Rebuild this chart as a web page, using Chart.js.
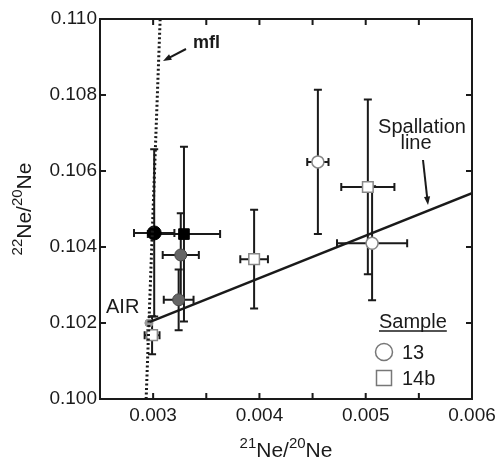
<!DOCTYPE html>
<html>
<head>
<meta charset="utf-8">
<script src="https://cdn.jsdelivr.net/npm/chart.js@4"></script>
<style>
  html, body { margin: 0; padding: 0; background: #fff; }
  #wrap { width: 497px; height: 463px; }
</style>
</head>
<body>
<div id="wrap"><canvas id="chart" width="497" height="463"></canvas></div>
<script>
// Ne isotope ratios: x = 21Ne/20Ne, y = 22Ne/20Ne, xe/ye = error half-widths
const sample13 = [
  { x: 0.00455, y: 0.10624, xe: 0.00010, ye: 0.0019 },
  { x: 0.00506, y: 0.10410, xe: 0.00033, ye: 0.0015 }
];
const sample14b = [
  { x: 0.00502, y: 0.10558, xe: 0.00025, ye: 0.0023 },
  { x: 0.00395, y: 0.10368, xe: 0.00013, ye: 0.0013 },
  { x: 0.00299, y: 0.10168, xe: 0.00007, ye: 0.0005 }
];
const blackCircle = [{ x: 0.00301, y: 0.10437, xe: 0.00019, ye: 0.0022 }];
const blackSquare = [{ x: 0.00329, y: 0.10434, xe: 0.00034, ye: 0.0023 }];
const grayCircles = [
  { x: 0.00326, y: 0.10379, xe: 0.00017, ye: 0.0011 },
  { x: 0.00324, y: 0.10261, xe: 0.00014, ye: 0.0008 }
];
const airPoint = [{ x: 0.00296, y: 0.10200 }];
const spallationLine = [{ x: 0.00297, y: 0.10203 }, { x: 0.00600, y: 0.10542 }];
const mflLine = [{ x: 0.002934, y: 0.100 }, { x: 0.003066, y: 0.110 }];

const xTicks = [0.003, 0.004, 0.005, 0.006];
const yTicks = [0.100, 0.102, 0.104, 0.106, 0.108, 0.110];

const FONT = "'Liberation Sans', Arial, sans-serif";
const INK = "#1a1a1a";

// error bars, drawn under the markers
const errorBars = {
  id: "errorBars",
  beforeDatasetsDraw(chart) {
    const { ctx, scales: { x, y } } = chart;
    ctx.save();
    ctx.strokeStyle = INK;
    ctx.lineWidth = 2;
    chart.data.datasets.forEach(ds => {
      if (!ds.errors) return;
      ds.data.forEach(p => {
        if (p.xe == null) return;
        const px = x.getPixelForValue(p.x), py = y.getPixelForValue(p.y);
        const x0 = x.getPixelForValue(p.x - p.xe), x1 = x.getPixelForValue(p.x + p.xe);
        const y0 = y.getPixelForValue(p.y - p.ye), y1 = y.getPixelForValue(p.y + p.ye);
        ctx.beginPath();
        ctx.moveTo(x0, py); ctx.lineTo(x1, py);
        ctx.moveTo(px, y0); ctx.lineTo(px, y1);
        ctx.moveTo(x0, py - 4); ctx.lineTo(x0, py + 4);
        ctx.moveTo(x1, py - 4); ctx.lineTo(x1, py + 4);
        ctx.moveTo(px - 4, y0); ctx.lineTo(px + 4, y0);
        ctx.moveTo(px - 4, y1); ctx.lineTo(px + 4, y1);
        ctx.stroke();
      });
    });
    ctx.restore();
  }
};

function arrow(ctx, x0, y0, x1, y1) {
  const a = Math.atan2(y1 - y0, x1 - x0), h = 9;
  ctx.beginPath();
  ctx.moveTo(x0, y0); ctx.lineTo(x1 - Math.cos(a) * 4, y1 - Math.sin(a) * 4);
  ctx.stroke();
  ctx.beginPath();
  ctx.moveTo(x1, y1);
  ctx.lineTo(x1 - h * Math.cos(a - 0.35), y1 - h * Math.sin(a - 0.35));
  ctx.lineTo(x1 - h * Math.cos(a + 0.35), y1 - h * Math.sin(a + 0.35));
  ctx.closePath();
  ctx.fill();
}

// frame, inward ticks, labels, legend and axis titles
const decorations = {
  id: "decorations",
  afterDraw(chart) {
    const { ctx, chartArea: a, scales: { x, y } } = chart;
    ctx.save();
    ctx.strokeStyle = INK;
    ctx.fillStyle = INK;
    ctx.lineWidth = 2;
    ctx.strokeRect(a.left, a.top, a.right - a.left, a.bottom - a.top);

    ctx.beginPath();
    x.ticks.forEach(t => {
      const px = x.getPixelForValue(t.value);
      if (px <= a.left + 1 || px >= a.right - 1) return;
      ctx.moveTo(px, a.bottom); ctx.lineTo(px, a.bottom - 6);
      ctx.moveTo(px, a.top); ctx.lineTo(px, a.top + 6);
    });
    y.ticks.forEach(t => {
      const py = y.getPixelForValue(t.value);
      if (py <= a.top + 1 || py >= a.bottom - 1) return;
      ctx.moveTo(a.left, py); ctx.lineTo(a.left + 6, py);
      ctx.moveTo(a.right, py); ctx.lineTo(a.right - 6, py);
    });
    ctx.stroke();

    // mfl label
    ctx.font = "bold 18px " + FONT;
    ctx.textBaseline = "middle";
    ctx.textAlign = "left";
    ctx.fillText("mfl", 193, 43);
    ctx.lineWidth = 2;
    arrow(ctx, 186, 49, 163, 61);

    // spallation line label
    ctx.font = "20px " + FONT;
    ctx.textAlign = "center";
    ctx.fillText("Spallation", 422, 127);
    ctx.fillText("line", 416, 143);
    arrow(ctx, 423, 160, 428, 205);

    ctx.font = "20px " + FONT;
    ctx.textAlign = "left";
    ctx.fillText("AIR", 106, 307);

    // legend
    ctx.fillText("Sample", 379, 322);
    const w = ctx.measureText("Sample").width;
    ctx.lineWidth = 1.5;
    ctx.beginPath(); ctx.moveTo(379, 331); ctx.lineTo(379 + w, 331); ctx.stroke();
    ctx.strokeStyle = "#777";
    ctx.beginPath(); ctx.arc(384, 352, 8.5, 0, Math.PI * 2); ctx.stroke();
    ctx.strokeRect(376.5, 370.5, 15, 15);
    ctx.fillText("13", 402, 353);
    ctx.fillText("14b", 402, 379);

    // axis titles with superscripts
    const drawTitle = (sup1, sup2, cx, base) => {
      const parts = [[sup1, 15, -9], ["Ne", 21, 0], ["/", 21, 0], [sup2, 15, -9], ["Ne", 21, 0]];
      let total = 0;
      parts.forEach(p => { ctx.font = p[1] + "px " + FONT; total += ctx.measureText(p[0]).width; });
      let px = cx - total / 2;
      ctx.textAlign = "left";
      ctx.textBaseline = "alphabetic";
      parts.forEach(p => {
        ctx.font = p[1] + "px " + FONT;
        ctx.fillText(p[0], px, base + p[2]);
        px += ctx.measureText(p[0]).width;
      });
    };
    drawTitle("21", "20", (a.left + a.right) / 2, 457);
    ctx.save();
    ctx.translate(31, (a.top + a.bottom) / 2);
    ctx.rotate(-Math.PI / 2);
    drawTitle("22", "20", 0, 0);
    ctx.restore();

    ctx.restore();
  }
};

new Chart(document.getElementById("chart"), {
  type: "scatter",
  data: {
    datasets: [
      { type: "line", data: mflLine, borderColor: INK, borderWidth: 3, borderDash: [2, 2.5],
        pointRadius: 0, fill: false },
      { type: "line", data: spallationLine, borderColor: INK, borderWidth: 2.5,
        pointRadius: 0, fill: false },
      { data: airPoint, pointStyle: "circle", pointRadius: 4, backgroundColor: "#999",
        borderColor: "#999", borderWidth: 1 },
      { data: grayCircles, errors: true, pointStyle: "circle", pointRadius: 6,
        backgroundColor: "#666", borderColor: "#444", borderWidth: 1 },
      { data: blackSquare, errors: true, pointStyle: "rect", pointRadius: 7.5,
        backgroundColor: "#000", borderColor: "#000", borderWidth: 1 },
      { data: blackCircle, errors: true, pointStyle: "circle", pointRadius: 7,
        backgroundColor: "#000", borderColor: "#000", borderWidth: 1 },
      { data: sample13, errors: true, pointStyle: "circle", pointRadius: 6,
        backgroundColor: "#fff", borderColor: "#888", borderWidth: 1.5 },
      { data: sample14b, errors: true, pointStyle: "rect", pointRadius: 7.5,
        backgroundColor: "#fff", borderColor: "#888", borderWidth: 1.5 }
    ]
  },
  options: {
    responsive: false,
    animation: false,
    events: [],
    layout: { padding: { top: 19, right: 25, left: 0, bottom: 0 } },
    plugins: { legend: { display: false }, tooltip: { enabled: false } },
    scales: {
      x: {
        type: "linear", min: 0.0025, max: 0.006,
        afterFit: s => { s.height = 64; s.paddingLeft = 0; s.paddingRight = 0; },
        afterBuildTicks: s => {
          const t = [];
          for (let i = 5; i <= 12; i++) t.push({ value: i * 0.0005 });
          s.ticks = t;
        },
        ticks: {
          color: INK, padding: 5, maxRotation: 0, autoSkip: false,
          font: { family: FONT, size: 19 },
          callback: v => xTicks.some(t => Math.abs(t - v) < 1e-7) ? v.toFixed(3) : ""
        },
        grid: { display: true, drawOnChartArea: false, drawTicks: false },
        border: { display: true, color: INK, width: 2 }
      },
      y: {
        type: "linear", min: 0.100, max: 0.110,
        afterFit: s => { s.width = 100; s.paddingTop = 0; s.paddingBottom = 0; },
        afterBuildTicks: s => { s.ticks = yTicks.map(v => ({ value: v })); },
        ticks: {
          color: INK, padding: 3, autoSkip: false,
          font: { family: FONT, size: 19 },
          callback: v => v.toFixed(3)
        },
        grid: { display: true, drawOnChartArea: false, drawTicks: false },
        border: { display: true, color: INK, width: 2 }
      }
    }
  },
  plugins: [errorBars, decorations]
});
</script>
</body>
</html>
